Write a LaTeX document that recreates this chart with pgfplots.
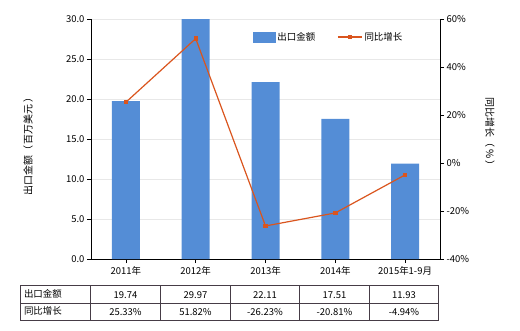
\documentclass[border=0pt]{standalone}
\usepackage{pgfplots}
\pgfplotsset{compat=1.18}
\usepackage{fontspec}
\setmainfont{Noto Sans CJK SC}
\definecolor{barblue}{RGB}{84,141,214}
\definecolor{lineor}{RGB}{218,85,30}
\definecolor{tabline}{RGB}{70,60,70}
\begin{document}
\begin{tikzpicture}[x=1bp,y=1bp,font=\fontsize{9.5}{11}\selectfont]
\useasboundingbox (0,0) rectangle (520,330);
\begin{axis}[
  at={(91bp,71bp)}, anchor=south west, scale only axis,
  width=349bp, height=240bp,
  xmin=-0.5, xmax=4.5, ymin=0, ymax=30,
  ytick={0,5,...,30},
  xtick={0,1,2,3,4},
  xticklabels={2011年,2012年,2013年,2014年,2015年1-9月},
  axis x line*=bottom, axis y line*=left,
  tick align=outside, major tick length=4bp,
  ymajorgrids, grid style={gray!18, line width=0.6bp},
  axis line style={black, line width=0.8bp},
  tick style={black, line width=0.6bp},
  /pgf/number format/assume math mode=true,
  yticklabel style={/pgf/number format/fixed,/pgf/number format/fixed zerofill,/pgf/number format/precision=1, font=\fontsize{9.5}{11}\selectfont, xshift=1bp},
  xticklabel style={font=\fontsize{9.5}{11}\selectfont},
]
\addplot[ybar, bar width=28bp, fill=barblue, draw=none] coordinates {(0,19.74)(1,29.97)(2,22.11)(3,17.51)(4,11.93)};
\end{axis}
\begin{axis}[
  at={(91bp,71bp)}, anchor=south west, scale only axis,
  width=349bp, height=240bp,
  xmin=-0.5, xmax=4.5, ymin=-40, ymax=60,
  ytick={-40,-20,...,60},
  axis x line=none, axis y line*=right,
  tick align=outside, major tick length=4bp,
  axis line style={black, line width=0.8bp},
  tick style={black, line width=0.6bp},
  /pgf/number format/assume math mode=true,
  yticklabel={\pgfmathprintnumber{\tick}\%},
  yticklabel style={font=\fontsize{9.5}{11}\selectfont, xshift=-1bp},
  legend columns=2,
  legend style={draw=none, fill=none, at={(0.455,0.925)}, anchor=west, font=\fontsize{9.5}{11}\selectfont, /tikz/every even column/.append style={column sep=20bp}},
]
\addlegendimage{legend image code/.code={\fill[barblue] (0bp,-5bp) rectangle (22bp,5bp);}}
\addlegendentry{出口金额}
\addplot[lineor, line width=1.2bp, mark=square*, mark size=1.6bp, mark options={fill=lineor}, legend image code/.code={\draw[lineor, line width=1.3bp] (0bp,0bp) -- (24bp,0bp); \fill[lineor] (10.5bp,-1.8bp) rectangle (13.5bp,1.8bp);}] coordinates {(0,25.33)(1,51.82)(2,-26.23)(3,-20.81)(4,-4.94)};
\addlegendentry{同比增长}
\end{axis}
\node[rotate=90] at (28,186) {\fontsize{10}{11}\selectfont 出口金额（\,百万美元\,）};
\node[rotate=-90] at (490,196) {\fontsize{10}{11}\selectfont 同比增长（\,\%\,）};
% table
\draw[tabline, line width=0.7bp] (20.5,44.5) rectangle (438.5,9.5);
\draw[tabline, line width=0.7bp] (20.5,27) -- (438.5,27);
\foreach \xx in {90.5,160.5,230,299.5,369.5} {\draw[tabline, line width=0.7bp] (\xx,44.5) -- (\xx,9.5);}
\node[anchor=west] at (20.5,36.5) {出口金额};
\node[anchor=west] at (20.5,19) {同比增长};
\foreach \xx/\t in {125.5/19.74,195.5/29.97,265/22.11,334.5/17.51,404/11.93} {\node at (\xx,35) {\t};}
\foreach \xx/\t in {125.5/25.33\%,195.5/51.82\%,265/-26.23\%,334.5/-20.81\%,404/-4.94\%} {\node at (\xx,17.5) {\t};}
\end{tikzpicture}
\end{document}
